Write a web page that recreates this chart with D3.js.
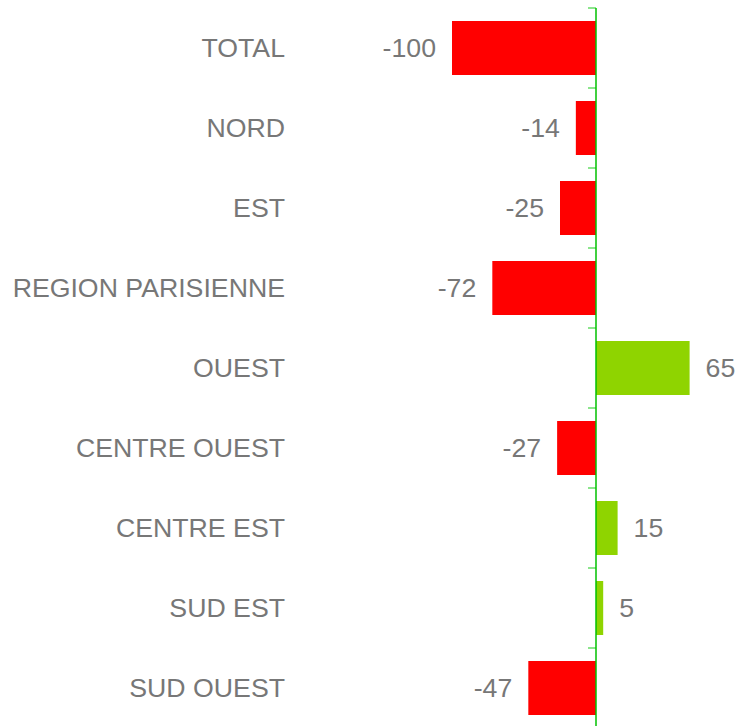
<!DOCTYPE html>
<html><head><meta charset="utf-8">
<script src="https://cdn.jsdelivr.net/npm/d3@7/dist/d3.min.js"></script>
<style>html,body{margin:0;padding:0;background:#fff;}svg{display:block;}</style>
</head><body>
<svg id="chart" width="739" height="726"></svg>
<script>
const categories = ["TOTAL","NORD","EST","REGION PARISIENNE","OUEST","CENTRE OUEST","CENTRE EST","SUD EST","SUD OUEST"];
const values = [-100,-14,-25,-72,65,-27,15,5,-47];

const svg = d3.select("#chart");
const font = "'Liberation Sans', Arial, Helvetica, sans-serif";
const textColor = "#777777";

const x = d3.scaleLinear().domain([-100, 65]).range([452, 689.6]);
const y = d3.scaleBand().domain(categories).range([8, 728]).paddingInner(0.325).paddingOuter(0.1625);

const data = categories.map((c, i) => ({c, v: values[i]}));

svg.selectAll("rect.bar").data(data).enter().append("rect")
  .attr("class","bar")
  .attr("x", d => x(Math.min(0, d.v)))
  .attr("y", d => y(d.c))
  .attr("width", d => Math.abs(x(d.v) - x(0)))
  .attr("height", y.bandwidth())
  .attr("fill", d => d.v < 0 ? "#ff0000" : "#8fd400");

// axis
const axis = d3.axisLeft(y).tickSize(8).tickFormat("");
const g = svg.append("g").attr("transform", `translate(${x(0)},0)`).call(axis);
g.select(".domain").remove();
g.selectAll(".tick line").attr("transform", `translate(0,${-y.step()/2})`).attr("stroke","#66dd66").attr("stroke-width",1.5);
svg.append("line").attr("x1", x(0)).attr("x2", x(0)).attr("y1", 8).attr("y2", 728)
  .attr("stroke", "#00c000").attr("stroke-width", 1.5);

// category labels
svg.selectAll("text.cat").data(data).enter().append("text")
  .attr("class","cat")
  .attr("x", 285)
  .attr("y", d => y(d.c) + y.bandwidth()/2)
  .attr("dy","0.34em")
  .attr("text-anchor","end")
  .attr("font-family", font).attr("font-size", 26.7).attr("fill", textColor)
  .text(d => d.c);

// value labels
svg.selectAll("text.val").data(data).enter().append("text")
  .attr("class","val")
  .attr("x", d => d.v < 0 ? x(d.v) - 16 : x(d.v) + 16)
  .attr("y", d => y(d.c) + y.bandwidth()/2)
  .attr("dy","0.34em")
  .attr("text-anchor", d => d.v < 0 ? "end" : "start")
  .attr("font-family", font).attr("font-size", 26.7).attr("fill", textColor)
  .text(d => d.v);
</script>
</body></html>
